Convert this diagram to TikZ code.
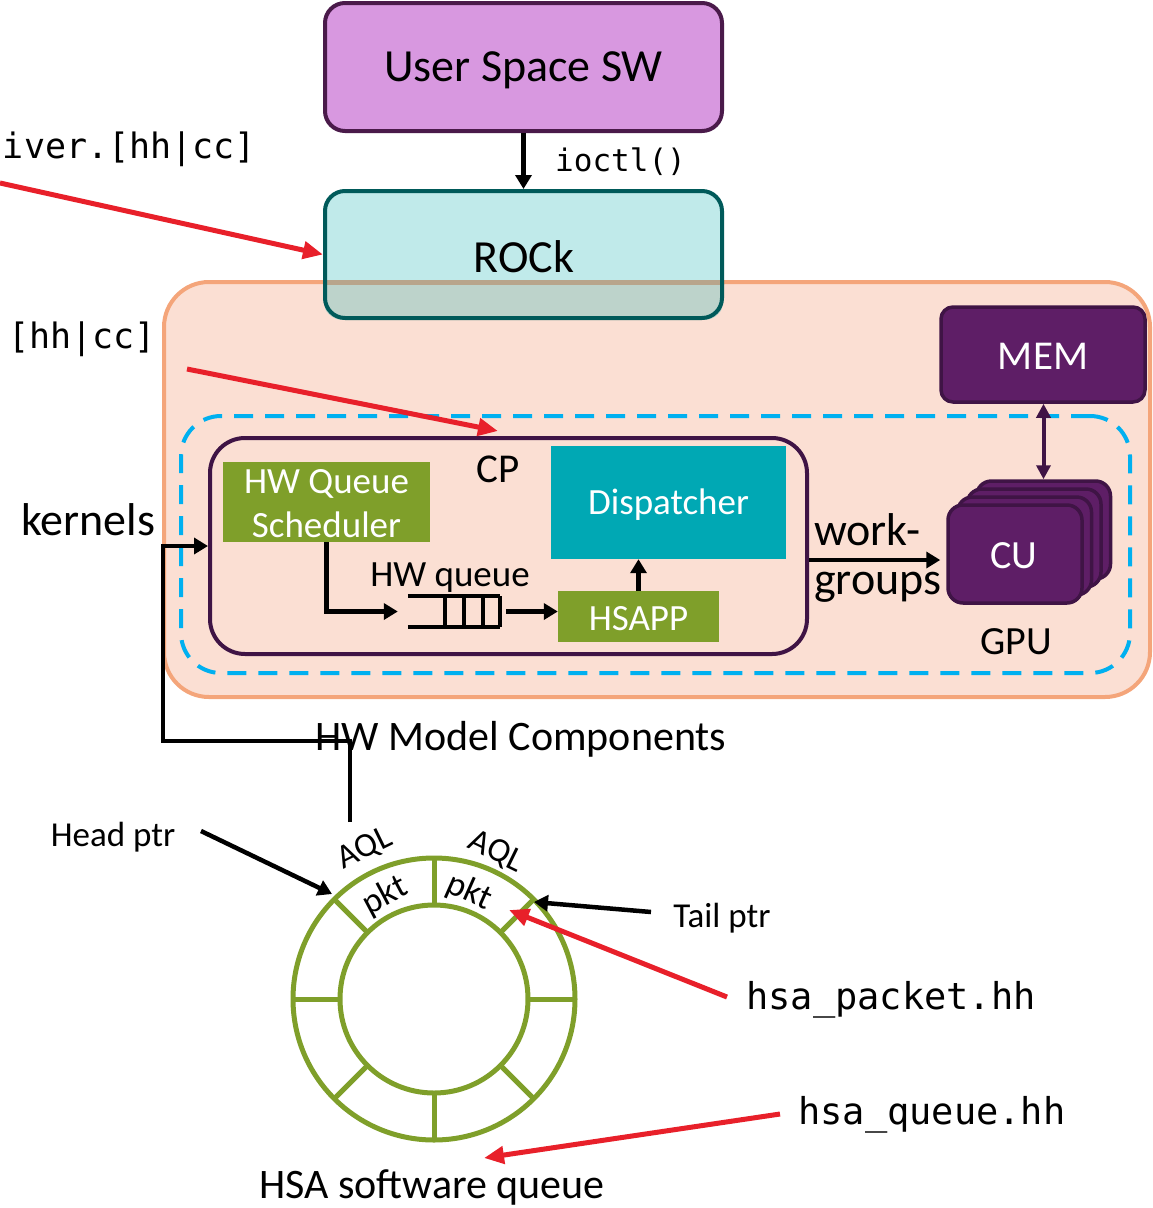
\documentclass[tikz,border=0pt]{standalone}
\usepackage{fontspec}
\setmainfont{Carlito}
\newfontfamily\codefont{DejaVu Sans Mono}
\usetikzlibrary{arrows.meta}

\definecolor{userfill}{HTML}{D898E0}
\definecolor{userdraw}{HTML}{4A1A4A}
\definecolor{rockfill}{HTML}{C0EAEA}
\definecolor{rockdraw}{HTML}{005A5A}
\definecolor{rockmix}{HTML}{BDD3CB}
\definecolor{rockedge}{HTML}{B8A58C}
\definecolor{hwfill}{HTML}{FBDFD3}
\definecolor{hwdraw}{HTML}{F4A57A}
\definecolor{gpudash}{HTML}{00B0F0}
\definecolor{darkpurple}{HTML}{3F1445}
\definecolor{cufill}{HTML}{5E1E66}
\definecolor{olive}{HTML}{7F9F2A}
\definecolor{dispteal}{HTML}{00A8B4}
\definecolor{ringgreen}{HTML}{7F9F2A}
\definecolor{srcred}{HTML}{E8202A}

\newcommand{\setsz}[1]{\fontsize{#1}{#1}\selectfont}

\tikzset{
  roundbox/.style={draw, rectangle, line width=4pt, inner sep=0pt},
  flatbox/.style={rectangle, inner sep=0pt},
  lbl/.style={inner sep=0pt, text=black},
  wlbl/.style={inner sep=0pt, text=white},
  arr/.style={line width=4.5pt, -{Triangle[length=14pt,width=16pt]}},
  redarr/.style={line width=5pt, draw=srcred, -{Triangle[length=20pt,width=17pt]}},
  ring/.style={draw=ringgreen, line width=5pt},
}

\begin{document}
\begin{tikzpicture}[x=1pt,y=-1pt]
\useasboundingbox (0,0) rectangle (1153,1208);

% hardware model frame
\node[roundbox, draw=hwdraw, fill=hwfill, rounded corners=45pt,
      minimum width=986pt, minimum height=415pt] (hw) at (657,489.5) {};

% user space and driver boxes
\node[roundbox, draw=userdraw, fill=userfill, rounded corners=20pt,
      minimum width=397pt, minimum height=128pt] (user) at (523.5,67) {};
\node[lbl, font=\setsz{46}] (usertxt) at (523.5,70) {User Space SW};
\node[roundbox, draw=none, fill=rockfill, rounded corners=20pt,
      minimum width=397pt, minimum height=127pt] (rock) at (523.5,254.5) {};
\begin{scope}
  \clip[rounded corners=20pt] (rock.north west) rectangle (rock.south east);
  \fill[rockmix] (325,282) rectangle (722,320);
  \draw[rockedge, line width=5pt] (320,282) -- (730,282);
\end{scope}
\node[roundbox, draw=rockdraw, rounded corners=20pt,
      minimum width=397pt, minimum height=127pt] (rockb) at (523.5,254.5) {};
\node[lbl, font=\setsz{46}] (rocktxt) at (524,257) {ROCk};

\draw[arr] (user.south) -- (rock.north);
\node[lbl, anchor=west, font=\codefont\setsz{31}] (ioctl) at (555,162) {ioctl()};

% GPU region
\node[roundbox, draw=gpudash, dash pattern=on 19pt off 12pt, rounded corners=40pt,
      minimum width=949pt, minimum height=257pt] (gpu) at (655.5,544.5) {};
\node[roundbox, draw=darkpurple, rounded corners=35pt,
      minimum width=597pt, minimum height=216pt] (cp) at (508.5,546) {};
\node[lbl, font=\setsz{41}] (cplbl) at (498,469) {CP};

\node[flatbox, fill=olive, minimum width=207pt, minimum height=80pt] (sched) at (326.5,502) {};
\node[wlbl, align=center, font=\setsz{37}] (schedtxt) at (326.5,504) {HW Queue\\[7pt]Scheduler};
\node[flatbox, fill=dispteal, minimum width=235pt, minimum height=113pt] (disp) at (668.5,502.5) {};
\node[wlbl, font=\setsz{37}] (disptxt) at (668.5,505) {Dispatcher};
\node[flatbox, fill=olive, minimum width=161pt, minimum height=51pt] (hsapp) at (638.5,616.5) {};
\node[wlbl, font=\setsz{37}] (hsapptxt) at (638.5,619) {HSAPP};

% hardware queue slots
\node[rectangle, minimum width=92pt, minimum height=31pt, inner sep=0pt] (hwq) at (454,611.5) {};
\draw[line width=3.5pt] (hwq.north west) -- (hwq.north east)
  (hwq.south west) -- (hwq.south east);
\foreach \qx in {445,464,483,500}
  \draw[line width=3.5pt] (\qx,596) -- (\qx,627);
\node[lbl, font=\setsz{37}] (hwqlbl) at (450,578) {HW queue};

\draw[arr] (sched.south) |- ([xshift=-10pt]hwq.west);
\draw[arr, shorten <=6pt] (hwq.east) -- (hwq.east -| hsapp.west);
\draw[arr] (hsapp.north) -- (hsapp.north |- disp.south);

% memory and compute units
\node[roundbox, draw=darkpurple, fill=cufill, rounded corners=12pt, line width=3.5pt,
      minimum width=204pt, minimum height=95pt] (mem) at (1043,354.5) {};
\node[wlbl, font=\setsz{41}] (memtxt) at (1043,356) {MEM};
\foreach \k/\nm in {3/cuc,2/cub,1/cua}
  \node[roundbox, draw=darkpurple, fill=cufill, rounded corners=15pt, line width=3.5pt,
        minimum width=134pt, minimum height=98pt] (\nm) at (1015+9.5*\k,554-8*\k) {};
\node[roundbox, draw=darkpurple, fill=cufill, rounded corners=15pt, line width=3.5pt,
      minimum width=134pt, minimum height=98pt] (cu) at (1015,554) {};
\node[wlbl, font=\setsz{40}] (cutxt) at (1014,556) {CU};
\draw[line width=4pt, darkpurple, {Triangle[length=14pt,width=14pt]}-{Triangle[length=14pt,width=14pt]}]
  (mem.south -| cuc.north) -- (cuc.north);
\node[lbl, font=\setsz{40}] (gpulbl) at (1016,642) {GPU};

\coordinate (wgA) at ([yshift=-14pt]cp.east);
\draw[arr, shorten >=6pt] (wgA) -- (wgA -| cu.west);
\node[lbl, anchor=west, font=\setsz{46}] (work) at (814,530) {work-};
\node[lbl, anchor=west, font=\setsz{46}] (groups) at (814,587) {groups};

% kernel submission path from the software queue
\coordinate (kstart) at (350,822);
\draw[line width=4.5pt, -{Triangle[length=14pt,width=16pt]}] (kstart) |- (163,741) |- (cp.west);
\node[lbl, font=\setsz{46}] (kernels) at (88,520) {kernels};
\node[lbl, font=\setsz{42}] (hwmodel) at (521,739) {HW Model Components};

% source file pointers
\node[lbl, anchor=east, font=\codefont\setsz{35}] (drvsrc) at (256,149) {iver.[hh|cc]};
\node[lbl, anchor=east, font=\codefont\setsz{35}] (cpsrc) at (156,339) {[hh|cc]};
\coordinate (drvfrom) at (0,183);
\coordinate (cpfrom) at (187,369);
\coordinate (cpto) at (498,431);
\draw[redarr] (drvfrom) -- (rock.west);
\draw[redarr] (cpfrom) -- (cpto);

% HSA software queue ring
\coordinate (rc) at (434,999);
\draw[ring] (rc) circle[radius=141] (rc) circle[radius=94];
\foreach \a in {0,45,...,315}
  \draw[ring] ([shift={(\a:94)}]rc) -- ([shift={(\a:141)}]rc);

\node[lbl, rotate=26, font=\setsz{34}] (aqlA) at (365,849) {AQL};
\node[lbl, rotate=28, font=\setsz{35}] (pktA) at (385,896) {pkt};
\node[lbl, rotate=-26, font=\setsz{34}] (aqlB) at (496,852) {AQL};
\node[lbl, rotate=-24, font=\setsz{35}] (pktB) at (469,892) {pkt};

\node[lbl, font=\setsz{35}] (head) at (113,837) {Head ptr};
\node[lbl, font=\setsz{35}] (tail) at (722,918) {Tail ptr};
\coordinate (headfrom) at (201,831);
\coordinate (headto) at (332,894);
\coordinate (tailfrom) at (651,912);
\coordinate (tailto) at (534,902);
\draw[arr] (headfrom) -- (headto);
\draw[arr] (tailfrom) -- (tailto);

\node[lbl, anchor=west, font=\codefont\setsz{37}] (pkth) at (746,1000) {hsa\_packet.hh};
\node[lbl, anchor=west, font=\codefont\setsz{37}] (queh) at (798,1115) {hsa\_queue.hh};
\coordinate (pktfrom) at (727,997);
\coordinate (pktto) at (509,910);
\coordinate (quefrom) at (780,1114);
\coordinate (queto) at (484,1158);
\draw[redarr] (pktfrom) -- (pktto);
\draw[redarr] (quefrom) -- (queto);

\node[lbl, font=\setsz{42}] (swq) at (432,1187) {HSA software queue};
\end{tikzpicture}
\end{document}
